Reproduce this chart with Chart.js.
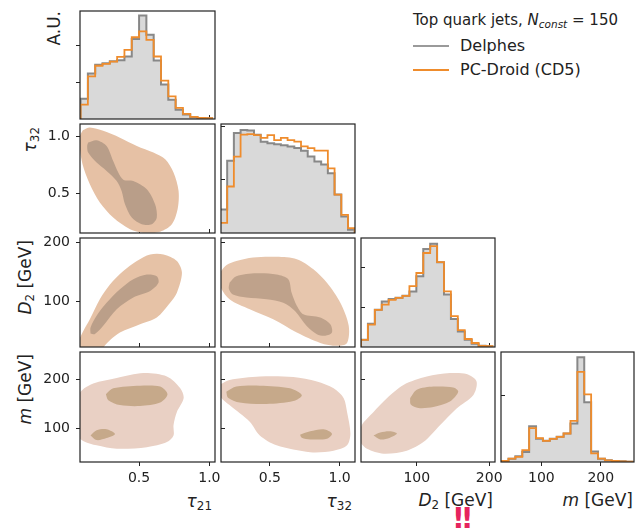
<!DOCTYPE html>
<html>
<head>
<meta charset="utf-8">
<script src="https://cdn.jsdelivr.net/npm/chart.js@4.4.1/dist/chart.umd.min.js"></script>
<style>
  body { margin: 0; width: 635px; height: 530px; overflow: hidden; position: relative; background: #fff;
         font-family: "DejaVu Sans", sans-serif; color: #222; }
  canvas { position: absolute; }
  .t { position: absolute; white-space: nowrap; }
  .xlab { position: absolute; width: 200px; text-align: right; font-size: 17px; line-height: 17px; white-space: nowrap; }
  .ylab { position: absolute; width: 150px; text-align: right; font-size: 17px; line-height: 17px; white-space: nowrap;
          transform: rotate(-90deg); transform-origin: 0 0; }
  .sub { font-size: 70%; vertical-align: -0.25em; line-height: 0; }
  .ln { position: absolute; height: 2px; }
</style>
</head>
<body>

<!-- legend -->
<div class="t" style="left:413px;top:13px;font-size:15px;line-height:15px">Top quark jets, <i>N</i><span class="sub"><i>const</i></span> = 150</div>
<div class="ln" style="left:413px;top:45px;width:36px;background:#9a9a9a"></div>
<div class="t" style="left:460px;top:37.5px;font-size:16px;line-height:16px">Delphes</div>
<div class="ln" style="left:413px;top:69px;width:36px;background:#ef8c2c"></div>
<div class="t" style="left:460px;top:61.5px;font-size:16px;line-height:16px">PC-Droid (CD5)</div>

<!-- axis titles -->
<div class="ylab" style="left:45.5px;top:161px">A.U.</div>
<div class="ylab" style="left:21.5px;top:277px"><i>τ</i><span class="sub">32</span></div>
<div class="ylab" style="left:16.5px;top:390px"><i>D</i><span class="sub">2</span> [GeV]</div>
<div class="ylab" style="left:16.5px;top:504px"><i>m</i> [GeV]</div>

<div class="xlab" style="left:12px;top:493px"><i>τ</i><span class="sub">21</span></div>
<div class="xlab" style="left:152px;top:493px"><i>τ</i><span class="sub">32</span></div>
<div class="xlab" style="left:293px;top:491.5px"><i>D</i><span class="sub">2</span> [GeV]</div>
<div class="xlab" style="left:433px;top:491.5px"><i>m</i> [GeV]</div>

<div class="t" style="left:452px;top:505px;font-size:28px;line-height:28px;font-weight:bold;letter-spacing:-4px;color:#e6245e">!!</div>

<script>
// ---- data ----

// axis ranges and tick values
const tau21Range = [0.08, 1.04], tau21Ticks = [0.5, 1.0];
const tau32Range = [0.15, 1.11], tau32Ticks = [0.5, 1.0];
const d2Range = [23, 208], d2Ticks = [100, 200];
const mRange = [32, 256], mTicks = [100, 200];

// 1D histograms (bin start, bin width, heights in A.U.)
const tau21Bins = [0.084, 0.052];
const delphesTau21 = [0.55, 1.23, 1.47, 1.51, 1.56, 1.59, 1.69, 2.16, 2.80, 2.28, 1.58, 0.93, 0.52, 0.25, 0.12, 0.05, 0.03, 0.02];
const droidTau21   = [0.39, 1.15, 1.44, 1.49, 1.55, 1.68, 1.87, 2.21, 2.37, 2.14, 1.69, 1.04, 0.61, 0.30, 0.14, 0.06, 0.03, 0.02];

const tau32Bins = [0.146, 0.0481];
const delphesTau32 = [0.44, 1.35, 1.87, 1.93, 1.92, 1.84, 1.71, 1.68, 1.66, 1.64, 1.62, 1.59, 1.54, 1.43, 1.34, 1.28, 1.12, 0.72, 0.31, 0.06];
const droidTau32   = [0.19, 0.87, 1.43, 1.84, 1.85, 1.83, 1.78, 1.83, 1.74, 1.78, 1.74, 1.71, 1.62, 1.59, 1.54, 1.54, 1.21, 0.72, 0.34, 0.09];

const d2Bins = [23, 9.55];
const delphesD2 = [0.18, 0.58, 0.93, 1.14, 1.20, 1.23, 1.28, 1.39, 1.77, 2.45, 2.58, 2.12, 1.31, 0.70, 0.39, 0.18, 0.08, 0.03, 0.02];
const droidD2   = [0.18, 0.56, 0.93, 1.06, 1.18, 1.23, 1.28, 1.52, 1.85, 2.35, 2.52, 2.12, 1.39, 0.77, 0.42, 0.20, 0.10, 0.03, 0.02];

const mBins = [33, 11.6];
const delphesM = [0.015, 0.05, 0.086, 0.15, 0.54, 0.35, 0.32, 0.35, 0.38, 0.43, 0.58, 1.58, 0.90, 0.16, 0.05, 0.025, 0.015, 0.01, 0.005];
const droidM   = [0.015, 0.05, 0.076, 0.18, 0.51, 0.36, 0.32, 0.35, 0.38, 0.43, 0.62, 1.36, 1.02, 0.13, 0.05, 0.025, 0.015, 0.01, 0.005];

const histYMax = [2.92, 2.04, 2.725, 1.66];
const histYTicks = [[1, 2], [1, 2], [1, 2], [1]];

// 2D contours, [x, y] outlines (outer level, inner level)
const tau21Tau32Outer = [[0.10,1.055],[0.15,1.08],[0.245,1.05],[0.364,0.99],[0.484,0.917],[0.602,0.859],[0.686,0.80],[0.745,0.683],[0.781,0.52],[0.774,0.359],[0.733,0.227],[0.65,0.162],[0.531,0.153],[0.436,0.183],[0.316,0.286],[0.221,0.418],[0.15,0.579],[0.098,0.756],[0.078,0.90],[0.078,1.0]];
const tau21Tau32Inner = [[0.138,0.947],[0.198,0.967],[0.269,0.917],[0.316,0.785],[0.352,0.683],[0.388,0.62],[0.459,0.608],[0.555,0.535],[0.614,0.403],[0.626,0.286],[0.591,0.227],[0.519,0.227],[0.448,0.286],[0.40,0.403],[0.376,0.52],[0.341,0.608],[0.269,0.697],[0.198,0.771],[0.138,0.859],[0.131,0.917]];

const tau21D2Outer = [[0.07,14],[0.20,14],[0.30,36],[0.364,47.5],[0.507,61.5],[0.626,73],[0.721,98],[0.769,115],[0.805,149],[0.769,169],[0.674,180],[0.579,180],[0.484,169],[0.388,152],[0.293,129],[0.221,104],[0.15,70],[0.098,47.5],[0.07,32]];
const tau21D2Inner = [[0.155,46],[0.186,45],[0.245,59],[0.341,87],[0.459,107],[0.579,118],[0.638,132],[0.626,143],[0.555,146],[0.459,138],[0.364,121],[0.269,98],[0.198,76],[0.155,56]];

const tau32D2Outer = [[0.145,150],[0.19,162],[0.26,169],[0.38,175],[0.548,176],[0.693,172],[0.812,155],[0.909,132],[1.005,98],[1.065,59],[1.053,30],[0.981,25],[0.861,30],[0.693,47.5],[0.524,70],[0.356,87],[0.211,104],[0.145,126]];
const tau32D2Inner = [[0.211,132],[0.26,143],[0.404,148],[0.548,146],[0.632,138],[0.656,115],[0.693,93],[0.74,78.5],[0.861,73],[0.933,61.5],[0.945,47.5],[0.897,42],[0.837,44.6],[0.764,58.6],[0.68,84],[0.596,98],[0.476,104],[0.332,107],[0.235,112],[0.206,122]];

const tau21MOuter = [[0.075,172],[0.11,182],[0.174,192],[0.341,203],[0.531,213],[0.698,206],[0.793,182],[0.817,162],[0.769,134],[0.745,107],[0.745,86],[0.698,72.5],[0.555,62],[0.341,59],[0.198,66],[0.11,74],[0.075,82],[0.075,130]];
const tau21MInnerTop = [[0.264,170],[0.316,182],[0.507,187.5],[0.65,185.5],[0.702,170],[0.65,153],[0.507,146],[0.364,148],[0.281,158]];
const tau21MInnerLow = [[0.155,86],[0.198,96.5],[0.269,98.6],[0.329,89],[0.269,80.7],[0.198,76.6]];

const tau32MOuter = [[0.145,190],[0.211,199],[0.428,206],[0.668,205],[0.837,196],[0.957,182],[1.029,162],[1.053,134],[1.077,90],[1.053,66],[0.957,55],[0.789,52],[0.548,66],[0.428,86],[0.356,114],[0.211,148],[0.145,166]];
const tau32MInnerTop = [[0.188,175],[0.26,185.5],[0.428,187.5],[0.644,182],[0.729,168],[0.668,156],[0.476,150],[0.284,153],[0.2,163]];
const tau32MInnerLow = [[0.716,87.6],[0.789,94.5],[0.885,98.6],[0.945,89.7],[0.909,79.4],[0.789,78],[0.729,81.5]];

const d2MOuter = [[22,86],[24,107],[40.3,134],[58.7,162],[81.6,189],[113.8,206],[145.8,213],[168.8,211],[182.5,196],[177.9,168],[155,141],[132,107],[109.1,72.5],[86.2,55],[54.1,49],[31.2,59],[22,72.5]];
const d2MInnerTop = [[90.8,162],[100,179],[122.9,185.5],[150.4,183.5],[157.2,175],[145.8,155],[122.9,144],[102.2,142],[91.7,149]];
const d2MInnerLow = [[40.3,86],[49.5,92],[63,94.5],[72.5,90],[63,81.5],[49.5,78]];

// ---- layout ----
const colX = [80, 221, 361, 501], colW = [135, 134, 134, 133];
const rowY = [11, 124, 238, 352], rowH = [108, 109, 109, 110];
const L = 46, R = 12, T = 4, B = 32;
const INK = '#222';
const TICK_FONT = { family: "'DejaVu Sans', sans-serif", size: 14 };

const fmt1 = v => v.toFixed(1);
const fmt0 = v => String(v);
const vars = [
  { range: tau21Range, ticks: tau21Ticks, fmt: fmt1 },
  { range: tau32Range, ticks: tau32Ticks, fmt: fmt1 },
  { range: d2Range, ticks: d2Ticks, fmt: fmt0 },
  { range: mRange, ticks: mTicks, fmt: fmt0 }
];

const hists = [
  { bins: tau21Bins, delphes: delphesTau21, droid: droidTau21 },
  { bins: tau32Bins, delphes: delphesTau32, droid: droidTau32 },
  { bins: d2Bins, delphes: delphesD2, droid: droidD2 },
  { bins: mBins, delphes: delphesM, droid: droidM }
];

// row,col -> outlines and fill colours
const contours = {
  '1,0': { outer: [tau21Tau32Outer], inner: [tau21Tau32Inner], colors: ['#e6c1a5', '#b99e89'] },
  '2,0': { outer: [tau21D2Outer], inner: [tau21D2Inner], colors: ['#e6c2a6', '#bb9f89'] },
  '2,1': { outer: [tau32D2Outer], inner: [tau32D2Inner], colors: ['#e7c6ad', '#bfa28b'] },
  '3,0': { outer: [tau21MOuter], inner: [tau21MInnerTop, tau21MInnerLow], colors: ['#e9d0c4', '#c6a98a'] },
  '3,1': { outer: [tau32MOuter], inner: [tau32MInnerTop, tau32MInnerLow], colors: ['#ead0c3', '#c6a98a'] },
  '3,2': { outer: [d2MOuter], inner: [d2MInnerTop, d2MInnerLow], colors: ['#e9d1c5', '#c7aa8d'] }
};

// full frame round every panel
const boxPlugin = {
  id: 'box',
  afterDraw(chart) {
    const a = chart.chartArea, ctx = chart.ctx;
    ctx.save();
    ctx.strokeStyle = INK;
    ctx.lineWidth = 1.2;
    ctx.strokeRect(a.left, a.top, a.right - a.left, a.bottom - a.top);
    ctx.restore();
  }
};

function makeScale(isX, range, ticks, fmt, labelled, outward) {
  return {
    type: 'linear', min: range[0], max: range[1],
    afterBuildTicks: s => { s.ticks = ticks.map(v => ({ value: v })); },
    afterFit: s => {
      if (isX) s.height = B; else s.width = L;
      s.paddingLeft = s.paddingRight = s.paddingTop = s.paddingBottom = 0;
    },
    grid: { drawOnChartArea: false, drawTicks: true, tickLength: outward ? 4 : -4, tickColor: INK, tickWidth: 1 },
    border: { display: false },
    ticks: { display: labelled, color: INK, font: TICK_FONT, padding: isX ? 4 : 6,
             maxRotation: 0, autoSkip: false, callback: fmt }
  };
}

function stepPoints(bins, vals) {
  const [start, width] = bins;
  const pts = [{ x: start, y: 0 }];
  vals.forEach((v, i) => pts.push({ x: start + i * width, y: v }));
  const end = start + vals.length * width;
  pts.push({ x: end, y: vals[vals.length - 1] });
  pts.push({ x: end, y: 0 });
  return pts;
}

function blob(outline, color) {
  return {
    data: outline.concat([outline[0]]).map(p => ({ x: p[0], y: p[1] })),
    showLine: true, fill: 'shape', backgroundColor: color,
    borderWidth: 0, pointRadius: 0, tension: 0.3
  };
}

function panel(row, col) {
  const c = document.createElement('canvas');
  c.width = colW[col] + L + R;
  c.height = rowH[row] + T + B;
  c.style.left = (colX[col] - L) + 'px';
  c.style.top = (rowY[row] - T) + 'px';
  document.body.appendChild(c);

  const xv = vars[col];
  let datasets, yScale;
  if (row === col) {
    const h = hists[col];
    datasets = [
      { data: stepPoints(h.bins, h.droid), showLine: true, stepped: 'before', fill: false,
        borderColor: '#ef8c2c', borderWidth: 1.8, pointRadius: 0 },
      { data: stepPoints(h.bins, h.delphes), showLine: true, stepped: 'before', fill: 'origin',
        backgroundColor: '#d9d9d9', borderColor: 'rgba(125,125,125,0.9)', borderWidth: 2, pointRadius: 0 }
    ];
    yScale = makeScale(false, [0, histYMax[col]], histYTicks[col], fmt0, false, col === 0);
  } else {
    const ct = contours[row + ',' + col];
    datasets = ct.inner.map(o => blob(o, ct.colors[1])).concat(ct.outer.map(o => blob(o, ct.colors[0])));
    const yv = vars[row];
    yScale = makeScale(false, yv.range, yv.ticks, yv.fmt, col === 0, col === 0);
  }

  new Chart(c, {
    type: 'scatter',
    data: { datasets },
    options: {
      responsive: false, animation: false, events: [],
      layout: { padding: { left: 0, top: T, right: R, bottom: 0 } },
      plugins: { legend: { display: false }, tooltip: { enabled: false } },
      scales: {
        x: makeScale(true, xv.range, xv.ticks, xv.fmt, row === 3, row === 3),
        y: yScale
      }
    },
    plugins: [boxPlugin]
  });
}

for (let r = 0; r < 4; r++) {
  for (let c = 0; c <= r; c++) panel(r, c);
}
</script>
</body>
</html>
